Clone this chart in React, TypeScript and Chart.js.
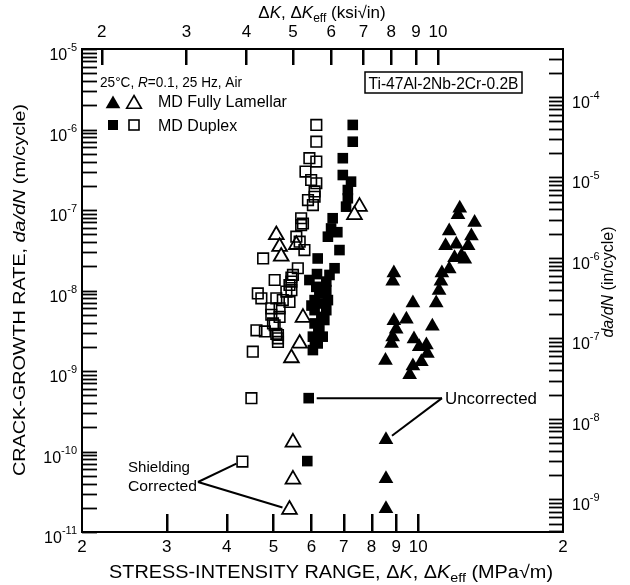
import React, { useEffect, useRef } from "react";
import { Chart, registerables } from "chart.js";

Chart.register(...registerables);

const FONT = '"Liberation Sans", Arial, Helvetica, sans-serif';
const MPA_PER_KSI = 1.0988; // 1 ksi√in = 1.0988 MPa√m
const M_PER_IN = 0.0254;

const xMin = 2;
const xMax = 20;
const yMin = 1e-11;
const yMax = 1e-5;

const bottomTicks = [2, 3, 4, 5, 6, 7, 8, 9, 10, 20];
const bottomTickLabels = ["2", "3", "4", "5", "6", "7", "8", "9", "10", "2"];
const topTicks = [2, 3, 4, 5, 6, 7, 8, 9, 10];
const topTickLabels = ["2", "3", "4", "5", "6", "7", "8", "9", "10"];
const leftExponents = [-11, -10, -9, -8, -7, -6, -5];
const rightExponents = [-9, -8, -7, -6, -5, -4];
const minorMultipliers = [1, 2, 3, 4, 5, 6, 7, 8, 9];

const lamellarUncorrK = [12.2, 12.1, 13.1, 11.6, 12.9, 11.4, 12.0, 12.7, 12.3, 11.9, 12.5, 11.6, 11.2, 11.15, 11.05, 10.9, 10.7, 9.75, 8.9, 8.85, 9.45, 8.9, 9.0, 8.85, 8.8, 8.55, 9.8, 10.05, 10.4, 10.45, 10.15, 9.75, 9.6];
const lamellarUncorrRate = [1.05e-7, 8.7e-8, 7.0e-8, 5.5e-8, 4.75e-8, 3.6e-8, 3.75e-8, 3.6e-8, 2.7e-8, 2.55e-8, 2.45e-8, 1.85e-8, 1.65e-8, 1.3e-8, 1.0e-8, 7.0e-9, 3.6e-9, 7.0e-9, 1.65e-8, 1.3e-8, 4.4e-9, 4.2e-9, 3.3e-9, 2.65e-9, 2.2e-9, 1.35e-9, 2.5e-9, 2.0e-9, 2.1e-9, 1.65e-9, 1.3e-9, 1.15e-9, 9.0e-10];
const lamellarUncorrLowK = [8.57, 8.57, 8.57];
const lamellarUncorrLowRate = [1.4e-10, 4.6e-11, 1.95e-11];

const lamellarCorrK = [7.55, 7.37, 5.07, 5.15, 5.19, 5.58, 5.76, 5.67, 5.45];
const lamellarCorrRate = [1.1e-7, 8.7e-8, 4.9e-8, 3.5e-8, 2.65e-8, 3.7e-8, 4.6e-9, 2.2e-9, 1.45e-9];
const lamellarCorrLowK = [5.49, 5.49, 5.4];
const lamellarCorrLowRate = [1.3e-10, 4.5e-11, 1.9e-11];

const duplexUncorrK = [7.31, 7.31, 6.97, 6.97, 7.25, 7.14, 7.14, 7.08, 6.64, 6.59, 6.49, 6.86, 6.18, 6.7, 6.54, 6.44, 6.14, 6.23, 6.09, 6.33, 6.09, 6.29, 6.09, 6.23, 6.04, 6.18, 6.04, 6.44, 6.49, 6.44, 6.38, 6.33, 5.94, 6.79, 6.16, 6.0, 6.2, 6.1];
const duplexUncorrRate = [1.14e-6, 7.05e-7, 4.4e-7, 2.72e-7, 2.25e-7, 1.77e-7, 1.4e-7, 1.1e-7, 7.9e-8, 5.9e-8, 4.66e-8, 3.18e-8, 2.5e-8, 1.89e-8, 1.56e-8, 1.29e-8, 1.11e-8, 9.2e-9, 7.6e-9, 6.9e-9, 5.7e-9, 4.7e-9, 3.9e-9, 3.2e-9, 2.67e-9, 2.2e-9, 1.82e-9, 1.01e-8, 7.6e-9, 5.7e-9, 4.3e-9, 2.67e-9, 1.35e-8, 5.3e-8, 1.6e-8, 6.5e-9, 3.5e-9, 2.4e-9];
const duplexUncorrLowK = [5.92, 5.88];
const duplexUncorrLowRate = [4.6e-10, 7.6e-11];

const duplexCorrK = [6.14, 6.14, 5.94, 6.14, 5.83, 5.99, 6.14, 6.09, 6.09, 5.9, 6.04, 5.71, 5.71, 5.58, 5.67, 5.8, 4.76, 5.62, 5.49, 5.03, 5.4, 5.45, 4.64, 4.72, 5.07, 5.23, 4.95, 5.15, 4.95, 5.15, 4.99, 4.61, 4.8, 5.07, 5.11, 4.53, 5.76, 5.45, 5.45, 5.32, 5.4, 5.03, 5.11, 5.11];
const duplexCorrRate = [1.14e-6, 7.05e-7, 4.4e-7, 4.0e-7, 3.0e-7, 2.36e-7, 2.15e-7, 1.7e-7, 1.46e-7, 1.33e-7, 1.15e-7, 7.9e-8, 6.5e-8, 4.66e-8, 4.04e-8, 3.18e-8, 2.5e-8, 1.89e-8, 1.56e-8, 1.35e-8, 1.17e-8, 1.01e-8, 9.2e-9, 8.0e-9, 8.0e-9, 7.6e-9, 6.0e-9, 6.0e-9, 5.0e-9, 4.7e-9, 3.9e-9, 3.2e-9, 3.1e-9, 2.9e-9, 2.55e-9, 1.74e-9, 6.8e-8, 1.29e-8, 1.45e-8, 9.7e-9, 7.2e-9, 3.7e-9, 2.8e-9, 2.3e-9];
const duplexCorrLowK = [4.5, 4.31];
const duplexCorrLowRate = [4.6e-10, 7.5e-11];

const toPts = (ks: number[], rs: number[]) => ks.map((k, i) => ({ x: k, y: rs[i] }));

type Seg = { t: string; f: string; dy?: number };
const fnt = (size: number, style = "") => `${style} ${size}px ${FONT}`.trim();

function segsWidth(ctx: CanvasRenderingContext2D, segs: Seg[]) {
  let w = 0;
  for (const s of segs) {
    ctx.font = s.f;
    w += ctx.measureText(s.t).width;
  }
  return w;
}

function drawSegs(
  ctx: CanvasRenderingContext2D,
  segs: Seg[],
  x: number,
  y: number,
  align: "left" | "center" | "right",
  rot = 0,
  fitW = 0
) {
  const w = segsWidth(ctx, segs);
  const k = fitW > 0 ? fitW / w : 1;
  ctx.save();
  ctx.translate(x, y);
  if (rot) ctx.rotate(rot);
  ctx.scale(k, 1);
  let cx = align === "left" ? 0 : align === "center" ? -w / 2 : -w;
  ctx.textAlign = "left";
  ctx.textBaseline = "alphabetic";
  ctx.fillStyle = "#000";
  for (const s of segs) {
    ctx.font = s.f;
    ctx.fillText(s.t, cx, s.dy || 0);
    cx += ctx.measureText(s.t).width;
  }
  ctx.restore();
}

function tri(ctx: CanvasRenderingContext2D, x: number, y: number, r: number, filled: boolean) {
  ctx.beginPath();
  for (let i = 0; i < 3; i++) {
    const a = (i * 2 * Math.PI) / 3;
    const px = x + Math.sin(a) * r;
    const py = y - Math.cos(a) * r;
    if (i === 0) ctx.moveTo(px, py);
    else ctx.lineTo(px, py);
  }
  ctx.closePath();
  if (filled) ctx.fill();
  else ctx.stroke();
}

function sq(ctx: CanvasRenderingContext2D, x: number, y: number, h: number, filled: boolean) {
  if (filled) ctx.fillRect(x - h, y - h, 2 * h, 2 * h);
  else ctx.strokeRect(x - h, y - h, 2 * h, 2 * h);
}

function seg(ctx: CanvasRenderingContext2D, x1: number, y1: number, x2: number, y2: number) {
  ctx.beginPath();
  ctx.moveTo(x1, y1);
  ctx.lineTo(x2, y2);
  ctx.stroke();
}

const decor = {
  id: "decor",
  afterDraw(chart: any) {
    const ctx: CanvasRenderingContext2D = chart.ctx;
    const sx = chart.scales.x;
    const sy = chart.scales.y;
    const sx2 = chart.scales.x2;
    const sy2 = chart.scales.y2;
    const L = sx.left;
    const R = sx.right;
    const T = sy.top;
    const B = sy.bottom;
    ctx.save();
    ctx.strokeStyle = "#000";
    ctx.fillStyle = "#000";

    // y tick labels with superscripts
    for (const e of leftExponents) {
      const py = sy.getPixelForValue(Math.pow(10, e));
      drawSegs(
        ctx,
        [
          { t: "10", f: fnt(16) },
          { t: "-" + Math.abs(e), f: fnt(11), dy: -9 },
        ],
        77,
        py + 11,
        "right"
      );
    }
    for (const e of rightExponents) {
      const py = sy2.getPixelForValue(Math.pow(10, e));
      drawSegs(
        ctx,
        [
          { t: "10", f: fnt(16) },
          { t: "-" + Math.abs(e), f: fnt(11), dy: -9 },
        ],
        572,
        py + 11,
        "left"
      );
    }

    // axis titles
    drawSegs(
      ctx,
      [
        { t: "Δ", f: fnt(17) },
        { t: "K", f: fnt(17, "italic") },
        { t: ", Δ", f: fnt(17) },
        { t: "K", f: fnt(17, "italic") },
        { t: "eff", f: fnt(12), dy: 4 },
        { t: " (ksi√in)", f: fnt(17) },
      ],
      322,
      18,
      "center"
    );
    drawSegs(
      ctx,
      [
        { t: "STRESS-INTENSITY RANGE, Δ", f: fnt(18) },
        { t: "K", f: fnt(18, "italic") },
        { t: ", Δ", f: fnt(18) },
        { t: "K", f: fnt(18, "italic") },
        { t: "eff", f: fnt(13), dy: 4 },
        { t: " (MPa√m)", f: fnt(18) },
      ],
      331,
      578,
      "center",
      0,
      444
    );
    drawSegs(
      ctx,
      [
        { t: "CRACK-GROWTH RATE, ", f: fnt(17) },
        { t: "da/dN", f: fnt(17, "italic") },
        { t: " (m/cycle)", f: fnt(17) },
      ],
      25,
      290,
      "center",
      -Math.PI / 2,
      372
    );
    drawSegs(
      ctx,
      [
        { t: "da/dN", f: fnt(16, "italic") },
        { t: " (in/cycle)", f: fnt(16) },
      ],
      613,
      282,
      "center",
      -Math.PI / 2
    );

    // legend block
    drawSegs(
      ctx,
      [
        { t: "25°C, ", f: fnt(15) },
        { t: "R", f: fnt(15, "italic") },
        { t: "=0.1, 25 Hz, Air", f: fnt(15) },
      ],
      100,
      87,
      "left",
      0,
      142
    );
    ctx.lineWidth = 1.6;
    tri(ctx, 113, 104, 8.5, true);
    tri(ctx, 134, 104, 8.5, false);
    sq(ctx, 113, 125, 5, true);
    sq(ctx, 134, 125, 5, false);
    drawSegs(ctx, [{ t: "MD Fully Lamellar", f: fnt(16) }], 158, 107, "left");
    drawSegs(ctx, [{ t: "MD Duplex", f: fnt(16) }], 158, 131, "left");

    // alloy box
    ctx.lineWidth = 1.5;
    ctx.strokeRect(365, 72, 157, 21);
    drawSegs(ctx, [{ t: "Ti-47Al-2Nb-2Cr-0.2B", f: fnt(16) }], 443.5, 88.5, "center", 0, 150);

    // "Uncorrected" annotation
    ctx.lineWidth = 2;
    const ux = 442;
    const uy = sy.getPixelForValue(duplexUncorrLowRate[0]);
    const sqx = sx.getPixelForValue(duplexUncorrLowK[0]);
    seg(ctx, sqx + 8, uy, ux, uy);
    const tx = sx.getPixelForValue(lamellarUncorrLowK[0]);
    const ty = sy.getPixelForValue(lamellarUncorrLowRate[0]);
    seg(ctx, ux, uy, tx + 6, ty - 4);
    drawSegs(ctx, [{ t: "Uncorrected", f: fnt(16.5) }], 445, uy + 6, "left", 0, 92);

    // "Shielding Corrected" annotation
    drawSegs(ctx, [{ t: "Shielding", f: fnt(15.5) }], 128, 472, "left", 0, 62);
    drawSegs(ctx, [{ t: "Corrected", f: fnt(15.5) }], 128, 491, "left", 0, 69);
    const cx0 = 198;
    const cy0 = 482;
    const osx = sx.getPixelForValue(duplexCorrLowK[1]);
    const osy = sy.getPixelForValue(duplexCorrLowRate[1]);
    seg(ctx, cx0, cy0, osx - 6, osy + 2);
    const otx = sx.getPixelForValue(lamellarCorrLowK[2]);
    const oty = sy.getPixelForValue(lamellarCorrLowRate[2]);
    seg(ctx, cx0, cy0, otx - 7, oty - 2);

    // frame
    ctx.lineWidth = 2;
    ctx.strokeStyle = "#000";
    ctx.strokeRect(L, T, R - L, B - T);

    // inward ticks on the y axes
    ctx.lineWidth = 1.8;
    for (const e of leftExponents) {
      for (const m of minorMultipliers) {
        const v = m * Math.pow(10, e);
        if (v > yMax * 1.0001) continue;
        const py = Math.round(sy.getPixelForValue(v)) + 0.5;
        seg(ctx, L, py, L + 15, py);
      }
    }
    const r2min = yMin / M_PER_IN;
    const r2max = yMax / M_PER_IN;
    for (const e of [-10, ...rightExponents]) {
      for (const m of minorMultipliers) {
        const v = m * Math.pow(10, e);
        if (v < r2min || v > r2max) continue;
        const py = Math.round(sy2.getPixelForValue(v)) + 0.5;
        seg(ctx, R - 14, py, R, py);
      }
    }
    // inward ticks on the x axes (solid bars)
    ctx.fillStyle = "#000";
    for (const v of bottomTicks) {
      if (v <= xMin || v >= xMax) continue;
      const px = Math.round(sx.getPixelForValue(v));
      ctx.fillRect(px - 1, Math.round(B) - 18, 2.5, 18);
    }
    for (const v of topTicks) {
      const px = Math.round(sx2.getPixelForValue(v));
      ctx.fillRect(px - 1, Math.round(T), 2.5, 16);
    }

    ctx.restore();
  },
};

export default function App() {
  const ref = useRef<HTMLCanvasElement>(null);
  useEffect(() => {
    const canvas = ref.current as HTMLCanvasElement;
    const tickFont = { family: FONT, size: 17 };
    const chart = new Chart(canvas, {
      type: "scatter",
      data: {
        datasets: [
          {
            label: "MD Duplex (shielding corrected)",
            data: toPts(duplexCorrK.concat(duplexCorrLowK), duplexCorrRate.concat(duplexCorrLowRate)),
            pointStyle: "rect",
            pointRadius: 7.5,
            backgroundColor: "rgba(255,255,255,0)",
            borderColor: "#000",
            borderWidth: 1.6,
          },
          {
            label: "MD Fully Lamellar (shielding corrected)",
            data: toPts(lamellarCorrK.concat(lamellarCorrLowK), lamellarCorrRate.concat(lamellarCorrLowRate)),
            pointStyle: "triangle",
            pointRadius: 8.5,
            backgroundColor: "#fff",
            borderColor: "#000",
            borderWidth: 1.8,
          },
          {
            label: "MD Duplex (uncorrected)",
            data: toPts(duplexUncorrK.concat(duplexUncorrLowK), duplexUncorrRate.concat(duplexUncorrLowRate)),
            pointStyle: "rect",
            pointRadius: 7.5,
            backgroundColor: "#000",
            borderColor: "#000",
            borderWidth: 0,
          },
          {
            label: "MD Fully Lamellar (uncorrected)",
            data: toPts(lamellarUncorrK.concat(lamellarUncorrLowK), lamellarUncorrRate.concat(lamellarUncorrLowRate)),
            pointStyle: "triangle",
            pointRadius: 8.5,
            backgroundColor: "#000",
            borderColor: "#000",
            borderWidth: 0,
          },
        ],
      },
      options: {
        responsive: false,
        animation: false,
        devicePixelRatio: 1,
        events: [],
        layout: { padding: 0 },
        plugins: { legend: { display: false }, tooltip: { enabled: false } },
        scales: {
          x: {
            type: "logarithmic",
            position: "bottom",
            axis: "x",
            min: xMin,
            max: xMax,
            afterBuildTicks: (s: any) => {
              s.ticks = bottomTicks.map((v) => ({ value: v }));
            },
            afterFit: (s: any) => {
              s.height = 53;
            },
            grid: { display: false, drawTicks: false },
            border: { display: false },
            ticks: {
              autoSkip: false,
              maxRotation: 0,
              minRotation: 0,
              padding: 5,
              color: "#000",
              font: tickFont,
              callback: (_v: any, i: number) => bottomTickLabels[i],
            },
          },
          x2: {
            type: "logarithmic",
            position: "top",
            axis: "x",
            min: xMin / MPA_PER_KSI,
            max: xMax / MPA_PER_KSI,
            afterBuildTicks: (s: any) => {
              s.ticks = topTicks.map((v) => ({ value: v }));
            },
            afterFit: (s: any) => {
              s.height = 49;
            },
            grid: { display: false, drawTicks: false },
            border: { display: false },
            ticks: {
              autoSkip: false,
              maxRotation: 0,
              minRotation: 0,
              padding: 6,
              color: "#000",
              font: tickFont,
              callback: (_v: any, i: number) => topTickLabels[i],
            },
          },
          y: {
            type: "logarithmic",
            position: "left",
            axis: "y",
            min: yMin,
            max: yMax,
            afterFit: (s: any) => {
              s.width = 82;
            },
            grid: { display: false, drawTicks: false },
            border: { display: false },
            ticks: { display: false },
          },
          y2: {
            type: "logarithmic",
            position: "right",
            axis: "y",
            min: yMin / M_PER_IN,
            max: yMax / M_PER_IN,
            afterFit: (s: any) => {
              s.width = 67;
            },
            grid: { display: false, drawTicks: false },
            border: { display: false },
            ticks: { display: false },
          },
        },
      } as any,
      plugins: [decor as any],
    });
    return () => chart.destroy();
  }, []);

  return (
    <div style={{ position: "fixed", left: 0, top: 0, width: 630, height: 585, background: "#fff" }}>
      <canvas ref={ref} width={630} height={585} style={{ display: "block", width: 630, height: 585 }} />
    </div>
  );
}
